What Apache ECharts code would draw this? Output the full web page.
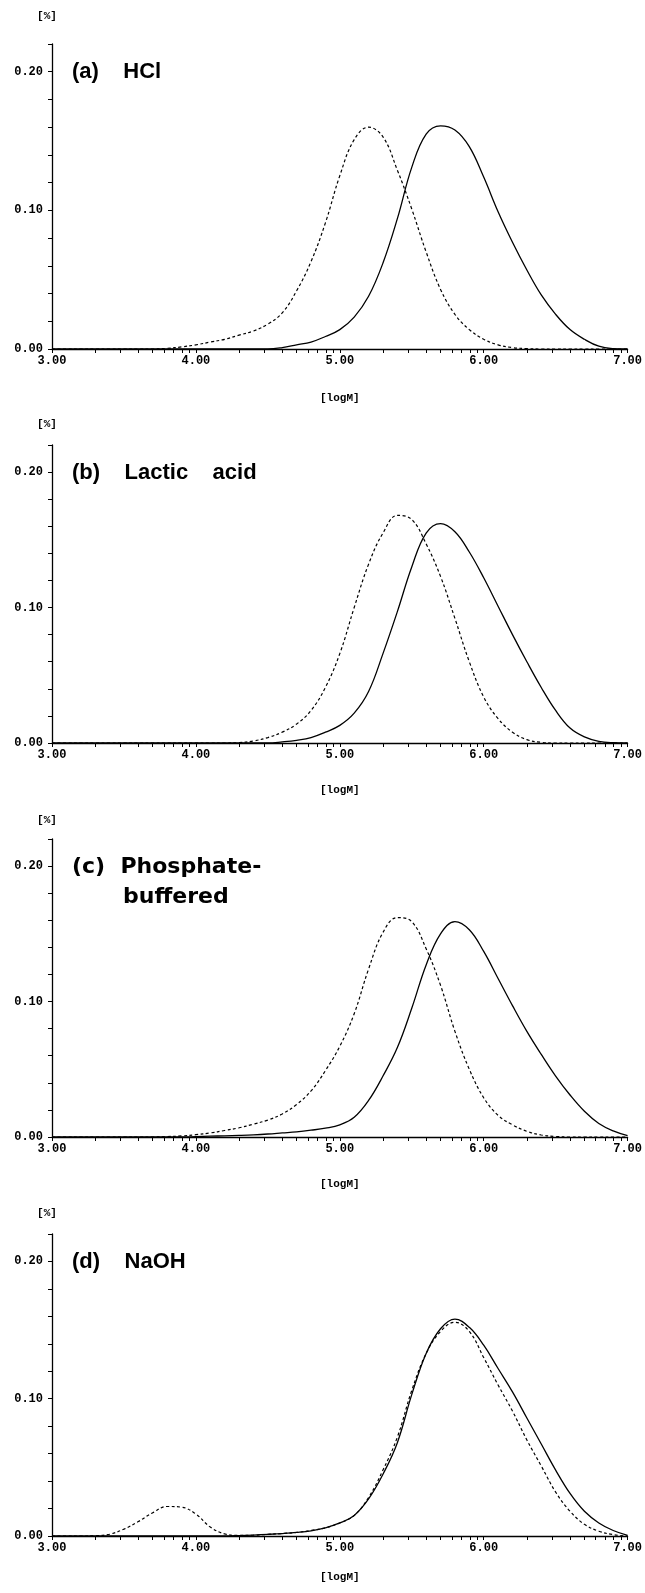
<!DOCTYPE html>
<html>
<head>
<meta charset="utf-8">
<title>Molecular weight distribution</title>
<script src="https://cdn.jsdelivr.net/npm/echarts@6/dist/echarts.min.js"></script>
<style>
  html, body { margin: 0; padding: 0; background: #fff; }
  #chart { width: 645px; height: 1593px; }
</style>
</head>
<body>
<div id="chart"></div>
<script>
// logM sample positions (x)
const logM = [3.0, 3.1, 3.2, 3.3, 3.4, 3.5, 3.6, 3.7, 3.8, 3.9,
  4.0, 4.1, 4.2, 4.3, 4.4, 4.5, 4.6, 4.7, 4.8, 4.9,
  5.0, 5.1, 5.2, 5.3, 5.4, 5.5, 5.6, 5.7, 5.8, 5.9,
  6.0, 6.1, 6.2, 6.3, 6.4, 6.5, 6.6, 6.7, 6.8, 6.9, 7.0]

const xTickLabels = [3, 4, 5, 6, 7]
const yTickLabels = [0, 0.1, 0.2]
const panelTitles = ['(a)    HCl', '(b)    Lactic    acid', '(c)  Phosphate-', '(d)    NaOH']

// (a) HCl
const hclSolid = [0, 0, 0, 0, 0, 0, 0, 0, 0, 0,
  0, 0, 0, 0, 0, 0, 0.001, 0.003, 0.005, 0.009,
  0.014, 0.023, 0.038, 0.062, 0.094, 0.131, 0.155, 0.161, 0.158, 0.146,
  0.124, 0.099, 0.077, 0.057, 0.039, 0.025, 0.014, 0.007, 0.002, 0.0003, 0]
const hclDashed = [0, 0, 0, 0, 0, 0, 0, 0, 0.0005, 0.0015,
  0.003, 0.005, 0.007, 0.010, 0.013, 0.018, 0.026, 0.042, 0.063, 0.091,
  0.125, 0.151, 0.160, 0.153, 0.129, 0.101, 0.070, 0.043, 0.025, 0.014,
  0.007, 0.003, 0.001, 0.0003, 0, 0, 0, 0, 0, 0, 0]

// (b) Lactic acid
const lacticSolid = [0, 0, 0, 0, 0, 0, 0, 0, 0, 0,
  0, 0, 0, 0, 0, 0, 0.0008, 0.002, 0.004, 0.008,
  0.013, 0.022, 0.038, 0.066, 0.097, 0.130, 0.155, 0.162, 0.156, 0.141,
  0.122, 0.101, 0.080, 0.060, 0.041, 0.024, 0.011, 0.0045, 0.0012, 0.0002, 0]
const lacticDashed = [0, 0, 0, 0, 0, 0, 0, 0, 0, 0,
  0, 0, 0, 0.0003, 0.0015, 0.004, 0.008, 0.014, 0.024, 0.041,
  0.066, 0.100, 0.132, 0.155, 0.168, 0.165, 0.147, 0.123, 0.092, 0.060,
  0.034, 0.018, 0.008, 0.0025, 0.0005, 0, 0, 0, 0, 0, 0]

// (c) Phosphate-buffered
const phosSolid = [0, 0, 0, 0, 0, 0, 0, 0, 0, 0,
  0.0003, 0.0006, 0.0009, 0.0012, 0.0016, 0.0022, 0.003, 0.0038, 0.005, 0.0065,
  0.009, 0.0146, 0.027, 0.045, 0.066, 0.095, 0.127, 0.150, 0.159, 0.153,
  0.137, 0.117, 0.097, 0.078, 0.061, 0.045, 0.031, 0.019, 0.010, 0.0045, 0.001]
const phosDashed = [0, 0, 0, 0, 0, 0, 0, 0, 0.0003, 0.0008,
  0.0017, 0.003, 0.0048, 0.0068, 0.0095, 0.0125, 0.017, 0.024, 0.034, 0.049,
  0.067, 0.091, 0.124, 0.151, 0.162, 0.159, 0.139, 0.112, 0.078, 0.050,
  0.029, 0.016, 0.009, 0.0042, 0.0015, 0.0004, 0, 0, 0, 0, 0]

// (d) NaOH
const naohSolid = [0, 0, 0, 0, 0, 0, 0, 0, 0, 0,
  0, 0, 0, 0.0003, 0.0007, 0.0012, 0.0018, 0.0026, 0.0038, 0.006,
  0.0095, 0.015, 0.027, 0.045, 0.068, 0.103, 0.133, 0.151, 0.158, 0.152,
  0.139, 0.122, 0.105, 0.086, 0.067, 0.048, 0.031, 0.018, 0.0095, 0.004, 0.0005]
const naohDashed = [0, 0, 0, 0.0002, 0.0013, 0.005, 0.0105, 0.017, 0.0215, 0.021,
  0.016, 0.0065, 0.0015, 0.0004, 0.0006, 0.0012, 0.0018, 0.0026, 0.004, 0.006,
  0.0095, 0.015, 0.028, 0.048, 0.072, 0.106, 0.133, 0.149, 0.1557, 0.149,
  0.130, 0.110, 0.091, 0.070, 0.051, 0.032, 0.018, 0.0085, 0.0035, 0.001, 0]

const panels = [
  { solid: hclSolid, dashed: hclDashed },
  { solid: lacticSolid, dashed: lacticDashed },
  { solid: phosSolid, dashed: phosDashed },
  { solid: naohSolid, dashed: naohDashed }
]

// layout: y of 0.22, plot height, gaps for the axis names
const layout = [
  { top: 44, height: 305, nameGap: 44, yNameGap: 22 },
  { top: 445, height: 298, nameGap: 42, yNameGap: 15 },
  { top: 839, height: 298, nameGap: 42, yNameGap: 13 },
  { top: 1234, height: 302, nameGap: 36, yNameGap: 15 }
]

// log-mantissa ticks on the logM axis
const xTicks = []
for (let n = 3; n < 7; n++) {
  for (let k = 1; k <= 9; k++) xTicks.push(n + Math.log10(k))
}
xTicks.push(7)

const labelFont = { fontFamily: 'Liberation Mono', fontWeight: 'bold', fontSize: 12, color: '#000' }
const nameFont = { fontFamily: 'Liberation Mono', fontWeight: 'bold', fontSize: 11, color: '#000' }
const axisLine = { show: true, lineStyle: { color: '#000', width: 1.3 } }

const pair = arr => arr.map((v, i) => [logM[i], v])

const grid = [], xAxis = [], yAxis = [], series = [], title = []
panels.forEach((p, i) => {
  const L = layout[i]
  grid.push({ left: 52, right: 15, top: L.top, height: L.height })
  xAxis.push({
    type: 'value', gridIndex: i, min: 3, max: 7,
    name: '[logM]', nameLocation: 'middle', nameGap: L.nameGap, nameTextStyle: nameFont,
    axisLine: axisLine,
    axisTick: { show: true, length: 4, customValues: xTicks, lineStyle: { color: '#000', width: 1 } },
    axisLabel: { customValues: xTickLabels, margin: 6, formatter: v => v.toFixed(2), ...labelFont },
    splitLine: { show: false }
  })
  yAxis.push({
    type: 'value', gridIndex: i, min: 0, max: 0.22, interval: 0.02,
    name: '[%]', nameLocation: 'end', nameGap: L.yNameGap,
    nameTextStyle: { ...nameFont, padding: [0, 10, 0, 0] },
    axisLine: axisLine,
    axisTick: { show: true, length: 4, lineStyle: { color: '#000', width: 1 } },
    axisLabel: { customValues: yTickLabels, margin: 9, formatter: v => v.toFixed(2), ...labelFont },
    splitLine: { show: false }
  })
  series.push({
    type: 'line', xAxisIndex: i, yAxisIndex: i, data: pair(p.solid),
    smooth: 0.4, showSymbol: false, symbol: 'none',
    lineStyle: { color: '#000', width: 1.3, type: 'solid' }
  })
  series.push({
    type: 'line', xAxisIndex: i, yAxisIndex: i, data: pair(p.dashed),
    smooth: 0.4, showSymbol: false, symbol: 'none',
    lineStyle: { color: '#000', width: 1.2, type: [3, 2.5] }
  })
  const c = i === 2
  title.push({
    text: panelTitles[i], left: 72, top: L.top + 28 - 12, padding: 0,
    textStyle: {
      fontFamily: c ? 'DejaVu Sans' : 'Liberation Sans', fontWeight: 'bold',
      fontSize: 22, lineHeight: 24, color: '#000'
    }
  })
})
// second line of panel (c)
title.push({
  text: 'buffered', left: 123, top: layout[2].top + 28 + 18, padding: 0,
  textStyle: { fontFamily: 'DejaVu Sans', fontWeight: 'bold', fontSize: 22, lineHeight: 24, color: '#000' }
})

const chart = echarts.init(document.getElementById('chart'))
chart.setOption({
  backgroundColor: '#fff',
  animation: false,
  title: title,
  grid: grid,
  xAxis: xAxis,
  yAxis: yAxis,
  series: series
})
</script>
</body>
</html>
